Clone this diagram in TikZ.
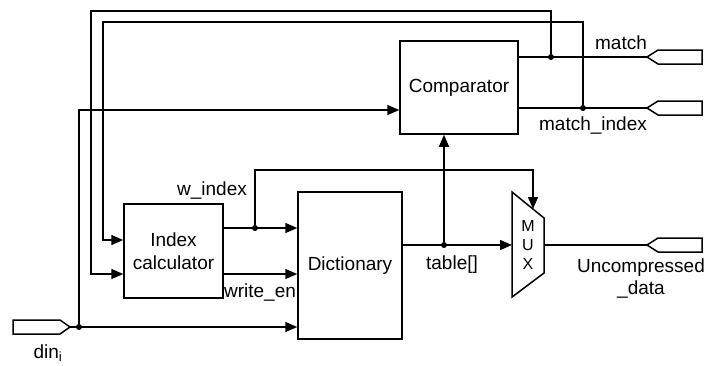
\documentclass[tikz,border=0pt]{standalone}
\usepackage{fontspec}
\setmainfont{Liberation Sans}
\usepackage{tikz}
\usetikzlibrary{positioning,arrows.meta}

\begin{document}
\begin{tikzpicture}[
				x=1pt,y=-1pt,
				font=\fontsize{19}{22}\selectfont,
				box/.style={
					rectangle,
					draw=black,
					line width=1.5pt,
					inner sep=0pt,
					align=center
				},
				wire/.style={
					line width=1.5pt
				},
				arrow/.style={
					-{Triangle[length=12pt,width=10pt]},
					line width=1.5pt
				},
				dot/.style={
					circle,
					fill=black,
					inner sep=0pt,
					minimum size=6pt
				},
				port/.style={
					line width=1.5pt,
					line join=miter
				}
			]
			\useasboundingbox (0,0) rectangle (706,365);
			% Nodes
			\node[box, minimum width=118pt, minimum height=93pt] (comp) at (459,87.5) {Comparator};
			\node[box, minimum width=99pt, minimum height=94pt] (idx) at (173.5,251) {Index\\[1pt]calculator};
			\node[box, minimum width=104pt, minimum height=147pt] (dict) at (350,265.5) {Dictionary};
			
			% MUX
			\draw[wire] (512,192) -- (544,218) -- (544,273) -- (512,297) -- cycle;
			\node[align=center, font=\fontsize{16}{19}\selectfont] (mux) at (528,245) {M\\U\\X};
			\coordinate (muxin) at (512,245);
			\coordinate (muxout) at (544,245);
			\coordinate (muxsel) at (533,209);
			
			% Ports
			\draw[port] (13,320) -- (60,320) -- (70,327) -- (60,334) -- (13,334) -- cycle;
			\coordinate (dinport) at (70,327);
			\foreach \y in {57,108,245}
				\draw[port] (647,\y) -- ++(11,-7) -- ++(44,0) -- ++(0,14) -- ++(-44,0) -- cycle;
			\coordinate (matchport) at (647,57);
			\coordinate (midxport) at (647,108);
			\coordinate (outport) at (647,245);
			
			% Junctions
			\node[dot] (d1) at (79,327) {};
			\node[dot] (m1) at (551,57) {};
			\node[dot] (m2) at (583,108) {};
			\node[dot] (w1) at (255,228) {};
			\node[dot] (t1) at (444,245) {};
			
			% Connectors
			\draw[arrow] (dinport) -- (dict.west |- dinport);
			\draw[arrow] (d1) -- (79,110) -- (comp.west |- 0,110);
			\draw[wire] (comp.east |- m1) -- (matchport);
			\draw[wire] (comp.east |- m2) -- (midxport);
			\draw[arrow] (m1) -- (551,11) -| (91,274) -- (idx.west |- 0,274);
			\draw[arrow] (m2) -- (583,22) -| (103,240) -- (idx.west |- 0,240);
			\draw[arrow] (idx.east |- w1) -- (dict.west |- w1);
			\draw[arrow] (w1) |- (533,170) -- (muxsel);
			\draw[arrow] (idx.east |- 0,274) -- (dict.west |- 0,274);
			\draw[arrow] (dict.east |- t1) -- (muxin);
			\draw[arrow] (t1) -- (comp.south -| t1);
			\draw[wire] (muxout) -- (outport);
			
			% Labels
			\node (lmatch) at (621,43) {match};
			\node (lmidx) at (593,125) {match\_index};
			\node (lwidx) at (212,190) {w\_index};
			\node (lwen) at (260,292) {write\_en};
			\node (ltable) at (452,265) {table[]};
			\node (ldin) at (48,353) {din\textsubscript{i}};
			\node[align=center] (lout) at (641,278) {Uncompressed\\\_data};
		\end{tikzpicture}
\end{document}
